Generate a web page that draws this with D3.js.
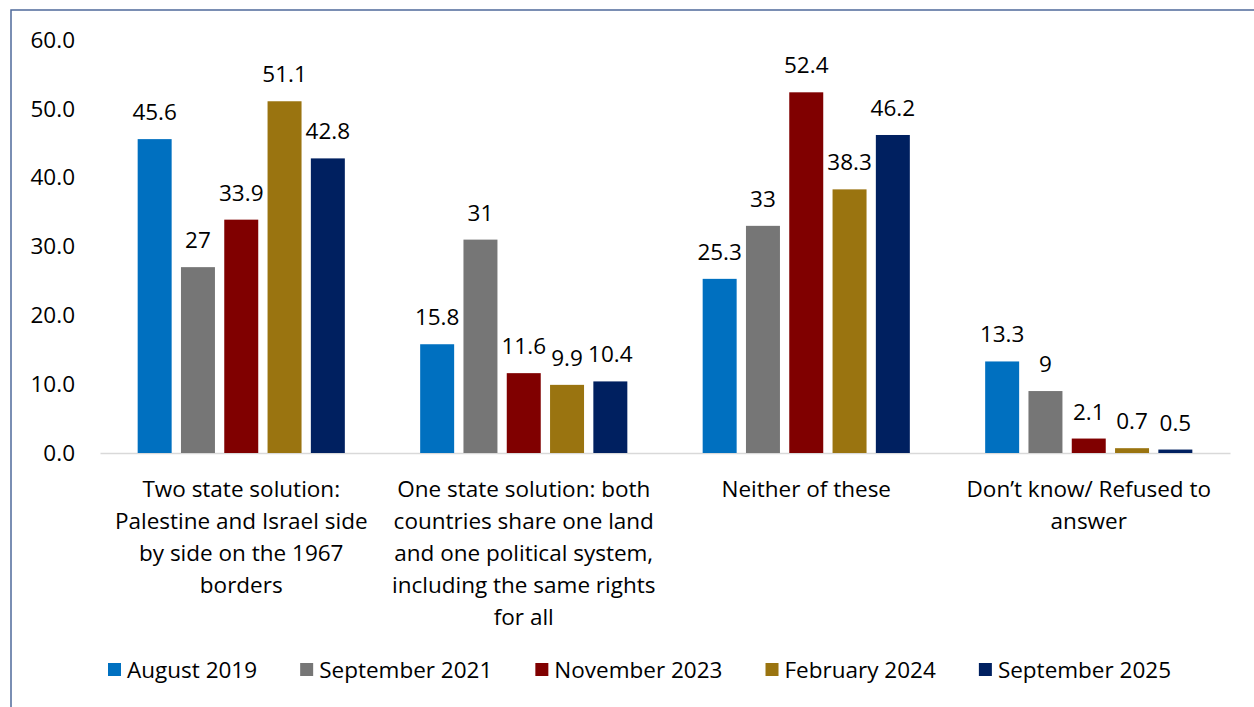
<!DOCTYPE html>
<html>
<head>
<meta charset="utf-8">
<script src="https://cdn.jsdelivr.net/npm/d3@7"></script>
<style>
  html, body { margin: 0; padding: 0; background: #ffffff; }
  svg { display: block; }
  text { font-family: "Open Sans", sans-serif; fill: #000000; }
</style>
</head>
<body>
<svg id="chart" width="1254" height="707"></svg>
<script>
// Category labels, one entry per line of the wrapped label
const categories = [
  ["Two state solution:", "Palestine and Israel side", "by side on the 1967", "borders"],
  ["One state solution: both", "countries share one land", "and one political system,", "including the same rights", "for all"],
  ["Neither of these"],
  ["Don\u2019t know/ Refused to", "answer"]
];

// Survey waves
const series = ["August 2019", "September 2021", "November 2023", "February 2024", "September 2025"];
const seriesColors = ["#0070C0", "#767676", "#800000", "#9A7410", "#002060"];

// Percentages per wave, in category order
const august2019    = [45.6, 15.8, 25.3, 13.3];
const september2021 = [27, 31, 33, 9];
const november2023  = [33.9, 11.6, 52.4, 2.1];
const february2024  = [51.1, 9.9, 38.3, 0.7];
const september2025 = [42.8, 10.4, 46.2, 0.5];
const seriesValues = [august2019, september2021, november2023, february2024, september2025];

const yTicks = [0, 10, 20, 30, 40, 50, 60];

const FONT = 22.5;
const svg = d3.select("#chart");

// Outer frame of the chart area
svg.append("rect")
  .attr("x", 11).attr("y", 10)
  .attr("width", 1260).attr("height", 720)
  .attr("fill", "none")
  .attr("stroke", "#4F6A9B")
  .attr("stroke-width", 1.5);

const plot = { left: 100, right: 1230, top: 40, bottom: 453 };

const y = d3.scaleLinear().domain([0, 60]).range([plot.bottom, plot.top]);
const x0 = d3.scaleBand().domain(d3.range(categories.length)).range([plot.left, plot.right]);
const x1 = d3.scaleBand().domain(d3.range(series.length))
  .range([0, x0.bandwidth()]).paddingInner(0.215).paddingOuter(0.87);

// Value axis: labels only
const yAxis = svg.append("g")
  .attr("transform", `translate(${plot.left},0)`)
  .call(d3.axisLeft(y).tickValues(yTicks).tickFormat(d3.format(".1f")).tickSize(0).tickPadding(25));
yAxis.select(".domain").remove();
yAxis.selectAll("text")
  .style("font-size", FONT + "px")
  .attr("font-family", null);

// Category axis line
const xAxis = svg.append("g")
  .attr("transform", `translate(0,${plot.bottom})`)
  .call(d3.axisBottom(x0).tickSize(0).tickSizeOuter(0).tickFormat(() => ""));
xAxis.select(".domain").attr("stroke", "#D9D9D9").attr("stroke-width", 1.5);
xAxis.selectAll(".tick text").remove();

// Wrapped category labels
const catLabel = svg.append("g").selectAll("text")
  .data(categories)
  .join("text")
  .attr("text-anchor", "middle")
  .attr("x", (d, i) => x0(i) + x0.bandwidth() / 2)
  .attr("y", 497)
  .style("font-size", FONT + "px");
catLabel.selectAll("tspan")
  .data(d => d)
  .join("tspan")
  .attr("x", function () { return d3.select(this.parentNode).attr("x"); })
  .attr("dy", (d, i) => i === 0 ? 0 : 32)
  .text(d => d);

// Bars and value labels
const groups = svg.append("g").selectAll("g")
  .data(categories.map((c, ci) => seriesValues.map((vals, si) => ({ ci, si, v: vals[ci] }))))
  .join("g")
  .attr("transform", (d, i) => `translate(${x0(i)},0)`);

groups.selectAll("rect")
  .data(d => d)
  .join("rect")
  .attr("x", d => x1(d.si))
  .attr("width", x1.bandwidth())
  .attr("y", d => y(d.v))
  .attr("height", d => y(0) - y(d.v))
  .attr("fill", d => seriesColors[d.si]);

groups.selectAll("text")
  .data(d => d)
  .join("text")
  .attr("text-anchor", "middle")
  .attr("x", d => x1(d.si) + x1.bandwidth() / 2)
  .attr("y", d => y(d.v) - 19)
  .style("font-size", FONT + "px")
  .text(d => String(d.v));

// Legend, spread across a fixed span from left to right
const legend = svg.append("g").attr("transform", "translate(0,670)");
const items = legend.selectAll("g").data(series).join("g");
items.append("rect")
  .attr("width", 13).attr("height", 13)
  .attr("y", -7)
  .attr("fill", (d, i) => seriesColors[i]);
items.append("text")
  .attr("x", 19)
  .attr("y", 8)
  .style("font-size", FONT + "px")
  .text(d => d);

const widths = [];
items.each(function () {
  widths.push(19 + this.querySelector("text").getComputedTextLength());
});
const legendStart = 108, legendEnd = 1171;
const gap = (legendEnd - legendStart - d3.sum(widths)) / (widths.length - 1);
let cursor = legendStart;
items.attr("transform", (d, i) => {
  const t = `translate(${cursor},0)`;
  cursor += widths[i] + gap;
  return t;
});
</script>
</body>
</html>
